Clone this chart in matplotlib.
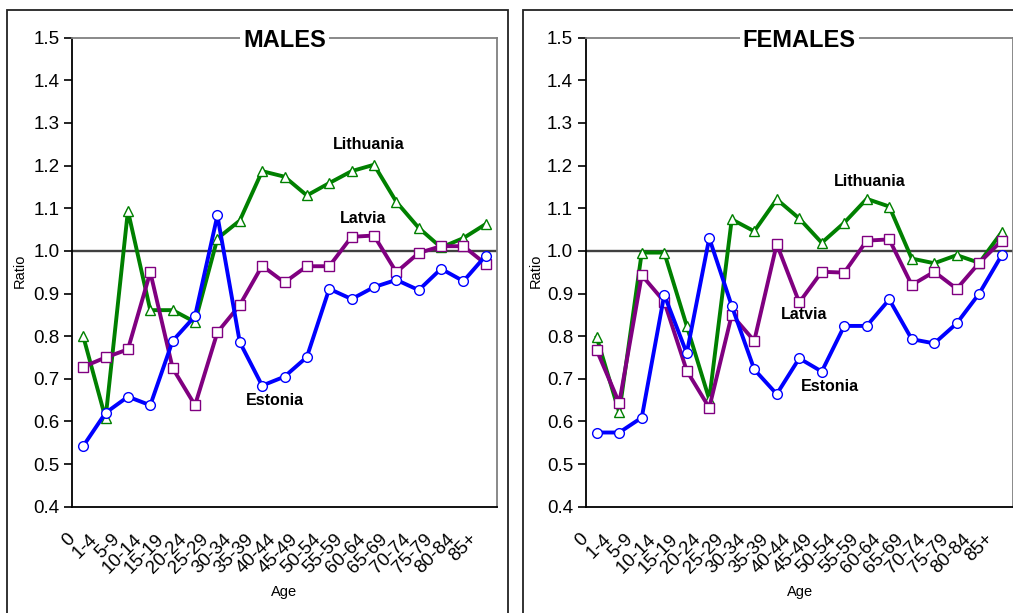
import matplotlib.pyplot as plt
import matplotlib.patches as mpatches
from matplotlib.transforms import ScaledTranslation

plt.rcParams["font.family"] = ["Liberation Sans", "DejaVu Sans"]

# Age groups shared by both panels
age_groups = ["0", "1-4", "5-9", "10-14", "15-19", "20-24", "25-29", "30-34",
              "35-39", "40-44", "45-49", "50-54", "55-59", "60-64", "65-69",
              "70-74", "75-79", "80-84", "85+"]

# Males
males_estonia = [0.542, 0.620, 0.658, 0.638, 0.789, 0.847, 1.083, 0.786, 0.684,
                 0.705, 0.751, 0.911, 0.887, 0.915, 0.932, 0.908, 0.958, 0.929, 0.989]
males_latvia = [0.728, 0.750, 0.769, 0.950, 0.725, 0.638, 0.809, 0.873, 0.965,
                0.926, 0.964, 0.964, 1.033, 1.036, 0.950, 0.995, 1.011, 1.011, 0.969]
males_lithuania = [0.800, 0.607, 1.094, 0.861, 0.861, 0.833, 1.029, 1.071, 1.187,
                   1.174, 1.130, 1.159, 1.187, 1.202, 1.115, 1.054, 1.008, 1.030, 1.063]

# Females
females_estonia = [0.574, 0.574, 0.609, 0.897, 0.760, 1.030, 0.871, 0.722, 0.664,
                   0.748, 0.717, 0.824, 0.824, 0.886, 0.793, 0.783, 0.830, 0.900, 0.990]
females_latvia = [0.767, 0.643, 0.943, 0.881, 0.719, 0.632, 0.850, 0.789, 1.016,
                  0.879, 0.951, 0.949, 1.024, 1.027, 0.920, 0.951, 0.911, 0.972, 1.024]
females_lithuania = [0.797, 0.621, 0.996, 0.996, 0.824, 0.652, 1.074, 1.046, 1.121,
                     1.076, 1.019, 1.066, 1.122, 1.104, 0.982, 0.971, 0.990, 0.972, 1.044]

y_ticks = [0.4, 0.5, 0.6, 0.7, 0.8, 0.9, 1.0, 1.1, 1.2, 1.3, 1.4, 1.5]

W, H = 1013, 613
fig = plt.figure(figsize=(W / 100, H / 100), dpi=100)


def px_box(x0, y0, x1, y1):
    """Pixel box (top-left origin) -> figure fraction rect."""
    return [x0 / W, 1 - y1 / H, (x1 - x0) / W, (y1 - y0) / H]


# panel frames
fig.patches.append(mpatches.Rectangle((7 / W, -0.05), 500.5 / W, 1.05 - 10 / H,
                                      transform=fig.transFigure, fill=False,
                                      edgecolor="#222222", linewidth=1.3))
fig.patches.append(mpatches.Rectangle((522.5 / W, -0.05), 0.6, 1.05 - 10 / H,
                                      transform=fig.transFigure, fill=False,
                                      edgecolor="#222222", linewidth=1.3))


def draw_panel(ax, title, estonia, latvia, lithuania, labels, ylab_x, age_x):
    x = list(range(len(age_groups)))
    ax.axhline(1.0, color="#404040", linewidth=1.7, zorder=1)
    ax.plot(x, lithuania, color="#008000", linewidth=2.8, marker="^",
            markersize=7.5, markerfacecolor="white", markeredgecolor="#008000",
            markeredgewidth=1.0, zorder=3)
    ax.plot(x, latvia, color="#800080", linewidth=2.8, marker="s",
            markersize=7, markerfacecolor="white", markeredgecolor="#800080",
            markeredgewidth=1.0, zorder=4)
    ax.plot(x, estonia, color="#0000ff", linewidth=2.8, marker="o",
            markersize=7, markerfacecolor="white", markeredgecolor="#0000ff",
            markeredgewidth=1.0, zorder=5)

    ax.set_xlim(-0.5, len(age_groups) - 0.5)
    ax.set_ylim(0.4, 1.5)
    ax.set_yticks(y_ticks)
    ax.set_yticklabels([f"{v:.1f}" for v in y_ticks], fontsize=13.5)
    ax.tick_params(axis="y", direction="out", length=6, width=1.2, pad=3)

    ax.set_xticks(x)
    ax.set_xticklabels(age_groups, fontsize=13.5, rotation=45, ha="right",
                       va="center", rotation_mode="anchor")
    ax.tick_params(axis="x", length=0, pad=0)
    offset = ScaledTranslation(-0.11, -0.30, fig.dpi_scale_trans)
    for lab in ax.get_xticklabels():
        lab.set_transform(lab.get_transform() + offset)

    for side in ["left", "bottom"]:
        ax.spines[side].set_color("black")
        ax.spines[side].set_linewidth(1.3)
    for side in ["top", "right"]:
        ax.spines[side].set_color("#808080")
        ax.spines[side].set_linewidth(1.3)

    ax.text(0.5, 0.995, title, transform=ax.transAxes, ha="center", va="center",
            fontsize=17, fontweight="bold",
            bbox=dict(facecolor="white", edgecolor="none", pad=2))

    for name, (lx, ly) in labels.items():
        ax.text(lx, ly, name, ha="center", va="center", fontsize=11.5,
                fontweight="bold", zorder=6)

    fig.text(ylab_x / W, 1 - 271 / H, "Ratio", rotation=90, ha="center",
             va="center", fontsize=10.5)
    fig.text(age_x / W, 1 - 592 / H, "Age", ha="center", va="center",
             fontsize=10.5)


ax_m = fig.add_axes(px_box(72, 37.7, 497, 506.7))
draw_panel(ax_m, "MALES", males_estonia, males_latvia, males_lithuania,
           {"Lithuania": (12.75, 1.249), "Latvia": (12.53, 1.077),
            "Estonia": (8.56, 0.648)}, 20, 284)

ax_f = fig.add_axes(px_box(585.5, 37.7, 1013, 506.7))
draw_panel(ax_f, "FEMALES", females_estonia, females_latvia, females_lithuania,
           {"Lithuania": (12.12, 1.162), "Latvia": (9.23, 0.850),
            "Estonia": (10.37, 0.682)}, 536, 800)

fig.savefig("out.png", dpi=100)
